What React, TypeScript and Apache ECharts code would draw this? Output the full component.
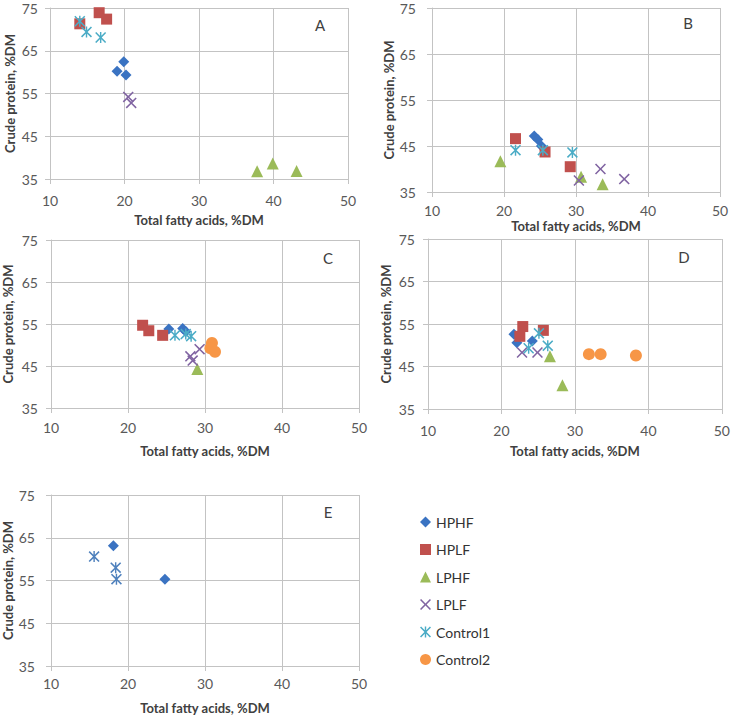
import React, { useEffect, useRef } from "react";
import * as echarts from "echarts";

const groupNames = ["HPHF", "HPLF", "LPHF", "LPLF", "Control1", "Control2"];
const panelLabels = ["A", "B", "C", "D", "E"];
const xTickValues = [10, 20, 30, 40, 50];
const yTickValues = [35, 45, 55, 65, 75];
const xAxisTitle = "Total fatty acids, %DM";
const yAxisTitle = "Crude protein, %DM";

// Panel A
const aHPHF = [[19.9, 62.4], [19.0, 60.2], [20.2, 59.3]];
const aHPLF = [[14.0, 71.3], [16.6, 73.9], [17.6, 72.4]];
const aLPHF = [[37.8, 36.8], [39.9, 38.6], [43.1, 36.9]];
const aLPLF = [[20.5, 54.2], [20.9, 52.8]];
const aControl1 = [[14.0, 71.9], [14.9, 69.4], [16.8, 68.1]];

// Panel B
const bHPHF = [[24.2, 47.2], [24.7, 46.4], [25.2, 45.0]];
const bHPLF = [[21.6, 46.6], [25.7, 43.7], [29.2, 40.5]];
const bLPHF = [[19.5, 41.7], [30.7, 38.3], [33.7, 36.7]];
const bLPLF = [[30.4, 37.5], [33.4, 40.0], [36.7, 37.8]];
const bControl1 = [[21.6, 44.1], [25.4, 44.1], [29.5, 43.6]];

// Panel C
const cHPHF = [[25.3, 53.8], [27.1, 53.9], [27.5, 53.2]];
const cHPLF = [[21.9, 54.7], [22.7, 53.4], [24.5, 52.3]];
const cLPHF = [[29.0, 44.3]];
const cLPLF = [[28.1, 47.3], [28.4, 46.3], [29.3, 49.0]];
const cControl1 = [[26.1, 52.3], [27.5, 52.6], [28.2, 52.1]];
const cControl2 = [[30.9, 50.5], [30.7, 49.2], [31.3, 48.4]];

// Panel D
const dHPHF = [[21.7, 52.6], [22.1, 50.6], [24.2, 51.0]];
const dHPLF = [[22.9, 54.4], [22.5, 52.1], [25.7, 53.5]];
const dLPHF = [[26.6, 47.4], [28.3, 40.6]];
const dLPLF = [[22.8, 48.3], [24.9, 48.3]];
const dControl1 = [[23.7, 49.3], [25.1, 52.8], [26.3, 49.9]];
const dControl2 = [[31.9, 47.9], [33.5, 47.9], [38.3, 47.6]];

// Panel E
const eHPHF = [[18.1, 63.1], [24.8, 55.3]];
const eControl1 = [[15.6, 60.6], [18.4, 58.0], [18.5, 55.3]];

const FONT = "Lato, 'Open Sans', sans-serif";
const GRID_COLOR = "#c3c3c3";

const X_PATH =
  "path://M2,0 L10,8 L18,0 L20,2 L12,10 L20,18 L18,20 L10,12 L2,20 L0,18 L8,10 L0,2 Z";
const AST_PATH =
  "path://M8.7,0 L11.3,0 L11.3,20 L8.7,20 Z M2,0 L10,8 L18,0 L20,2 L12,10 L20,18 L18,20 L10,12 L2,20 L0,18 L8,10 L0,2 Z";

const markerStyles: Record<string, { symbol: string; size: number; color: string }> = {
  HPHF: { symbol: "diamond", size: 11, color: "#3a73c2" },
  HPLF: { symbol: "rect", size: 11, color: "#c0504d" },
  LPHF: { symbol: "triangle", size: 12, color: "#9bbb59" },
  LPLF: { symbol: X_PATH, size: 11, color: "#8064a2" },
  Control1: { symbol: AST_PATH, size: 11, color: "#4bacc6" },
  Control2: { symbol: "circle", size: 12, color: "#f79646" },
  "Control1 E": { symbol: AST_PATH, size: 11, color: "#4f81bd" },
};

// layout per panel (pixels)
const layouts = [
  { left: 50, top: 8, width: 298, height: 171, xLab: 14, xName: 34, yLab: 12, yName: 34, letter: [320, 25] },
  { left: 432, top: 8, width: 288, height: 184, xLab: 11, xName: 27, yLab: 16, yName: 35, letter: [688, 23] },
  { left: 51, top: 240, width: 308, height: 168, xLab: 12, xName: 36, yLab: 13, yName: 37, letter: [328, 258] },
  { left: 428, top: 239, width: 294, height: 170, xLab: 14, xName: 35, yLab: 13, yName: 36, letter: [684, 257] },
  { left: 51, top: 495, width: 308, height: 171, xLab: 10, xName: 35, yLab: 16, yName: 37, letter: [328, 512] },
];

export default function App() {
  const ref = useRef<HTMLDivElement>(null);

  useEffect(() => {
    if (!ref.current) return;
    const chart = echarts.init(ref.current, undefined, { renderer: "svg" });

    const panelData: Record<string, number[][]>[] = [
      { HPHF: aHPHF, HPLF: aHPLF, LPHF: aLPHF, LPLF: aLPLF, Control1: aControl1 },
      { HPHF: bHPHF, HPLF: bHPLF, LPHF: bLPHF, LPLF: bLPLF, Control1: bControl1 },
      { HPHF: cHPHF, HPLF: cHPLF, LPHF: cLPHF, LPLF: cLPLF, Control1: cControl1, Control2: cControl2 },
      { HPHF: dHPHF, HPLF: dHPLF, LPHF: dLPHF, LPLF: dLPLF, Control1: dControl1, Control2: dControl2 },
      { HPHF: eHPHF, "Control1 E": eControl1 },
    ];

    const axisLineStyle = { color: GRID_COLOR, width: 1 };
    const grids = layouts.map((l) => ({ left: l.left, top: l.top, width: l.width, height: l.height, containLabel: false }));
    const xAxes = layouts.map((l, i) => ({
      type: "value",
      gridIndex: i,
      min: xTickValues[0],
      max: xTickValues[xTickValues.length - 1],
      interval: xTickValues[1] - xTickValues[0],
      axisLine: { show: true, onZero: false, lineStyle: axisLineStyle },
      axisTick: { show: true, length: 5, lineStyle: axisLineStyle },
      splitLine: { show: true, lineStyle: axisLineStyle },
      axisLabel: { margin: l.xLab, fontSize: 14, color: "#595959", fontFamily: FONT },
      name: xAxisTitle,
      nameLocation: "middle",
      nameGap: l.xName,
      nameTextStyle: { fontSize: 13, fontWeight: "bold", color: "#404040", fontFamily: FONT },
    }));
    const yAxes = layouts.map((l, i) => ({
      type: "value",
      gridIndex: i,
      min: yTickValues[0],
      max: yTickValues[yTickValues.length - 1],
      interval: yTickValues[1] - yTickValues[0],
      axisLine: { show: true, onZero: false, lineStyle: axisLineStyle },
      axisTick: { show: true, length: 5, lineStyle: axisLineStyle },
      splitLine: { show: true, lineStyle: axisLineStyle },
      axisLabel: { margin: l.yLab, fontSize: 14, color: "#595959", fontFamily: FONT },
      name: yAxisTitle,
      nameLocation: "middle",
      nameGap: l.yName,
      nameTextStyle: { fontSize: 13, fontWeight: "bold", color: "#404040", fontFamily: FONT },
    }));

    const series: any[] = [];
    panelData.forEach((pd, i) => {
      Object.keys(pd).forEach((key) => {
        const st = markerStyles[key];
        series.push({
          type: "scatter",
          name: key,
          xAxisIndex: i,
          yAxisIndex: i,
          data: pd[key],
          symbol: st.symbol,
          symbolSize: st.size,
          itemStyle: { color: st.color, opacity: 1 },
          emphasis: { disabled: true },
        });
      });
    });

    const graphic = layouts.map((l, i) => ({
      type: "text",
      x: l.letter[0],
      y: l.letter[1],
      style: {
        text: panelLabels[i],
        fontSize: 15,
        fontFamily: FONT,
        fill: "#404040",
        textAlign: "center",
        textVerticalAlign: "middle",
      },
    }));

    chart.setOption({
      animation: false,
      backgroundColor: "#ffffff",
      grid: grids,
      xAxis: xAxes,
      yAxis: yAxes,
      series,
      graphic,
      legend: {
        data: groupNames,
        orient: "vertical",
        left: 415,
        top: 510,
        itemWidth: 11,
        itemHeight: 11,
        itemGap: 13.5,
        selectedMode: false,
        textStyle: { fontSize: 14, color: "#333333", fontFamily: FONT },
      },
    });

    return () => chart.dispose();
  }, []);

  return (
    <div
      ref={ref}
      style={{ position: "fixed", left: 0, top: 0, width: 733, height: 719, background: "#fff" }}
    />
  );
}
